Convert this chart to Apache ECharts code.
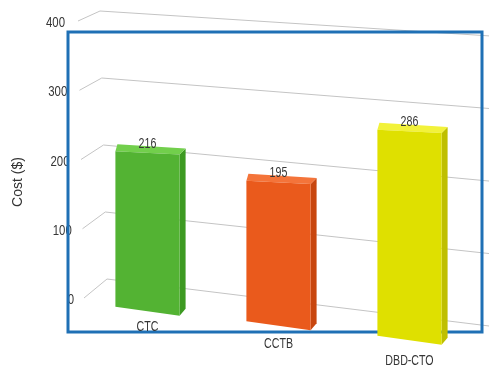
<!DOCTYPE html>
<html>
<head>
<meta charset="utf-8">
<script src="https://cdn.jsdelivr.net/npm/echarts@6/dist/echarts.min.js"></script>
<style>
  html, body { margin: 0; padding: 0; background: #fff; }
  #chart { width: 489px; height: 372px; }
</style>
</head>
<body>
<div id="chart"></div>
<script>
// data
const categories = ['CTC', 'CCTB', 'DBD-CTO']
const costs = [216, 195, 286]
const yTicks = [0, 100, 200, 300, 400]

// face colours per bar (front / top / side)
const barColors = [
  { front: '#53b333', top: '#72cf4c', side: '#3d9a22' },
  { front: '#ea5a1c', top: '#f4743a', side: '#c8460f' },
  { front: '#dfe000', top: '#f2f23a', side: '#bfbf00' }
]

const NARROW = 0.76   // squeeze text like Arial Narrow

// fake perspective: how the front plane of the bars tilts
const SKEW = 0.11, BOTTOM_SLOPE = 0.14, TOP_SLOPE = 0.05, DROP = 7, HSCALE = 1.04

function label(x, y, text, size, align) {
  return {
    type: 'text', x: x, y: y, scaleX: NARROW,
    style: { text: text, font: size + 'px "Liberation Sans", Arial, sans-serif', fill: '#363636',
             align: align || 'center', verticalAlign: 'middle' }
  }
}

function gridLine(params, api) {
  const v = api.value(1)
  const y = api.coord([0, v])[1]
  const k = (400 - v) / 400
  const x0 = 78 + 6 * k
  const cx = 100 + 7 * k
  const cy = y - 12 - 9 * k
  const slope = 0.064 + 0.059 * k
  const ex = 489
  return {
    type: 'group',
    children: [
      {
        type: 'polyline',
        silent: true,
        shape: { points: [[x0, y - 2], [cx, cy], [ex, cy + slope * (ex - cx)]] },
        style: { stroke: '#c4c4c4', lineWidth: 1, fill: null }
      },
      label(65 + 9 * k, y, String(v), 15, 'right')
    ]
  }
}

function bar3d(params, api) {
  const i = api.value(0)
  const v = api.value(1)
  const base = api.coord([i, 0])
  const c = base[0]
  const w = api.size([1, 0])[0] * 0.49
  const xl = c - w / 2, xr = c + w / 2
  const ybl = base[1] + DROP + SKEW * (xl - 117)
  const h = api.size([0, v])[1] * HSCALE
  const ytl = ybl - h
  const ybr = ybl + BOTTOM_SLOPE * w
  const ytr = ytl + TOP_SLOPE * w
  const col = barColors[i]
  return {
    type: 'group',
    children: [
      { type: 'polygon', shape: { points: [[xr, ytr], [xr + 6, ytr - 6], [xr + 6, ybr - 7], [xr, ybr]] },
        style: { fill: col.side } },
      { type: 'polygon', shape: { points: [[xl, ytl], [xl + 2, ytl - 7], [xr + 6, ytr - 6], [xr, ytr]] },
        style: { fill: col.top } },
      { type: 'polygon', shape: { points: [[xl, ybl], [xl, ytl], [xr, ytr], [xr, ybr]] },
        style: { fill: col.front } },
      label(c, ytl + TOP_SLOPE * w / 2 - 9, String(v), 14),
      label(c, ybl + BOTTOM_SLOPE * w / 2 + 16 + 0.02 * (c - 147), categories[i], 14)
    ]
  }
}

const chart = echarts.init(document.getElementById('chart'))
chart.setOption({
  animation: false,
  grid: { left: 82, right: 14, top: 23, bottom: 72 },
  xAxis: {
    type: 'category',
    data: categories,
    show: false
  },
  yAxis: {
    type: 'value',
    min: 0,
    max: 400,
    interval: 100,
    axisLine: { show: false },
    axisTick: { show: false },
    splitLine: { show: false },
    axisLabel: { show: false }
  },
  graphic: [
    { type: 'rect', z: 3, shape: { x: 68, y: 32, width: 414, height: 300 },
      style: { fill: null, stroke: '#1f70b5', lineWidth: 3 } },
    { type: 'text', x: 18, y: 182, rotation: Math.PI / 2,
      style: { text: 'Cost ($)', font: '14px "Liberation Sans", Arial, sans-serif', fill: '#333',
               align: 'center', verticalAlign: 'middle' } }
  ],
  series: [
    {
      type: 'custom',
      z: 1,
      clip: false,
      renderItem: gridLine,
      data: yTicks.map(v => [0, v])
    },
    {
      type: 'custom',
      z: 10,
      clip: false,
      renderItem: bar3d,
      data: costs.map((v, i) => [i, v])
    }
  ]
})
</script>
</body>
</html>
